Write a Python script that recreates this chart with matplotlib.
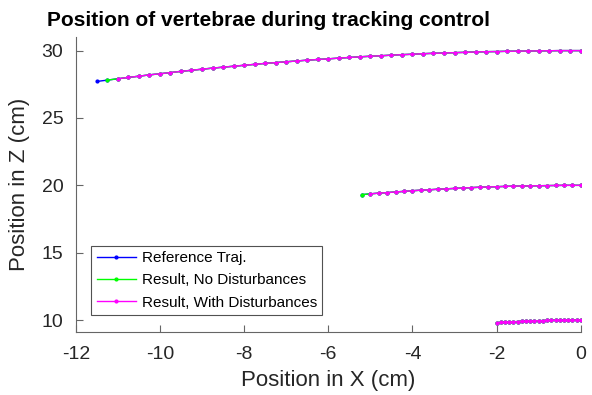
import matplotlib
matplotlib.use("Agg")
import matplotlib.pyplot as plt

plt.rcParams['font.family'] = ['Liberation Sans', 'DejaVu Sans']
plt.rcParams['axes.unicode_minus'] = False

# vertebra 1 (top)
x_top = [-11.5, -11.25, -11.0, -10.75, -10.5, -10.25, -10.0, -9.75, -9.5, -9.25,
         -9.0, -8.75, -8.5, -8.25, -8.0, -7.75, -7.5, -7.25, -7.0, -6.75,
         -6.5, -6.25, -6.0, -5.75, -5.5, -5.25, -5.0, -4.75, -4.5, -4.25,
         -4.0, -3.75, -3.5, -3.25, -3.0, -2.75, -2.5, -2.25, -2.0, -1.75,
         -1.5, -1.25, -1.0, -0.75, -0.5, -0.25, 0.0]
z_top = [27.71, 27.81, 27.91, 28.01, 28.10, 28.20, 28.28, 28.37, 28.46, 28.54,
         28.62, 28.70, 28.77, 28.84, 28.91, 28.98, 29.05, 29.11, 29.17, 29.23,
         29.29, 29.34, 29.39, 29.44, 29.49, 29.54, 29.58, 29.62, 29.66, 29.70,
         29.73, 29.77, 29.80, 29.82, 29.85, 29.87, 29.90, 29.92, 29.93, 29.95,
         29.96, 29.97, 29.98, 29.99, 30.00, 30.00, 30.00]

# vertebra 2 (middle)
x_mid = [-5.2, -5.0, -4.8, -4.6, -4.4, -4.2, -4.0, -3.8, -3.6, -3.4,
         -3.2, -3.0, -2.8, -2.6, -2.4, -2.2, -2.0, -1.8, -1.6, -1.4,
         -1.2, -1.0, -0.8, -0.6, -0.4, -0.2, 0.0]
z_mid = [19.31, 19.37, 19.42, 19.46, 19.51, 19.55, 19.60, 19.64, 19.67, 19.71,
         19.74, 19.77, 19.80, 19.83, 19.86, 19.88, 19.90, 19.92, 19.94, 19.95,
         19.96, 19.97, 19.98, 19.99, 20.00, 20.00, 20.00]

# vertebra 3 (bottom)
x_bot = [-2.0, -1.9, -1.8, -1.7, -1.6, -1.5, -1.4, -1.3, -1.2, -1.1,
         -1.0, -0.9, -0.8, -0.7, -0.6, -0.5, -0.4, -0.3, -0.2, -0.1, 0.0]
z_bot = [9.80, 9.82, 9.84, 9.85, 9.87, 9.89, 9.90, 9.92, 9.93, 9.94,
         9.95, 9.96, 9.97, 9.98, 9.98, 9.99, 9.99, 10.00, 10.00, 10.00, 10.00]

# first sample index where each series starts (top, mid, bottom)
start_ref = [0, 0, 0]
start_nodist = [1, 0, 0]
start_dist = [2, 1, 0]

labels = ['Reference Traj.', 'Result, No Disturbances', 'Result, With Disturbances']
colors = ['#0000ff', '#00ff00', '#ff00ff']
starts = [start_ref, start_nodist, start_dist]

fig = plt.figure(figsize=(5.92, 3.95), dpi=100)
ax = fig.add_axes([0.128, 0.159, 0.853, 0.747])

curves = [(x_top, z_top), (x_mid, z_mid), (x_bot, z_bot)]
for lab, col, st in zip(labels, colors, starts):
    for i, (xs, zs) in enumerate(curves):
        ax.plot(xs[st[i]:], zs[st[i]:], color=col, marker='.', markersize=4,
                linewidth=1, label=lab if i == 0 else None)

ax.set_xlim(-12, 0)
ax.set_ylim(9.1, 31)
ax.set_xticks([-12, -10, -8, -6, -4, -2, 0])
ax.set_yticks([10, 15, 20, 25, 30])
for s in ['top', 'right']:
    ax.spines[s].set_visible(False)
for s in ['left', 'bottom']:
    ax.spines[s].set_color('#666666')
ax.tick_params(direction='in', length=5, color='#666666', labelsize=14,
               labelcolor='#262626')
ax.tick_params(axis='x', pad=10)
ax.tick_params(axis='y', pad=9)
ax.set_xlabel('Position in X (cm)', fontsize=16, color='#262626')
ax.set_ylabel('Position in Z (cm)', fontsize=16, color='#262626')
ax.xaxis.set_label_coords(0.5, -0.129)
ax.yaxis.set_label_coords(-0.091, 0.5)

fig.text(0.453, 1 - 26 / 395, 'Position of vertebrae during tracking control',
         fontsize=15, fontweight='bold', ha='center', va='baseline')

leg = ax.legend(loc='lower left', bbox_to_anchor=(0.031, 0.058), fontsize=11,
                frameon=True, fancybox=False, edgecolor='#262626',
                handlelength=2.55, borderaxespad=0, borderpad=0.35,
                labelspacing=0.55, handletextpad=0.4)
leg.get_frame().set_linewidth(0.8)

fig.savefig('out.png', dpi=100)
